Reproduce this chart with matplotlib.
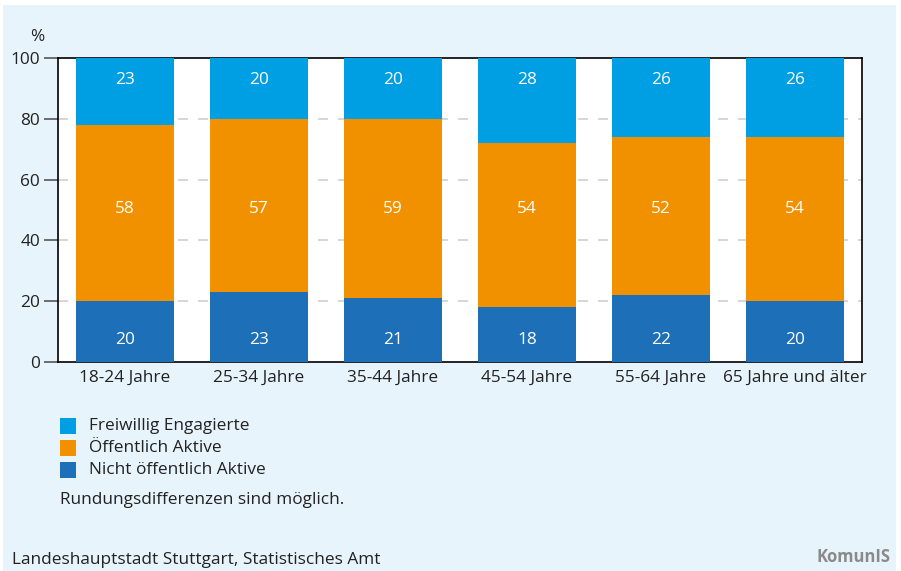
import matplotlib
matplotlib.use("Agg")
import matplotlib.pyplot as plt
from matplotlib.patches import Rectangle

categories = ["18-24 Jahre", "25-34 Jahre", "35-44 Jahre", "45-54 Jahre", "55-64 Jahre", "65 Jahre und älter"]
nicht_aktiv = [20, 23, 21, 18, 22, 20]
oeff_aktiv = [58, 57, 59, 54, 52, 54]
freiwillig = [23, 20, 20, 28, 26, 26]
series_names = ["Freiwillig Engagierte", "Öffentlich Aktive", "Nicht öffentlich Aktive"]
yticks = [0, 20, 40, 60, 80, 100]

c_light = "#009fe3"
c_orange = "#f29100"
c_dark = "#1d70b7"
bg = "#e8f4fc"

plt.rcParams['font.family'] = ['Open Sans', 'DejaVu Sans']

fig = plt.figure(figsize=(9.01, 5.71), dpi=100)
W, H = 901, 571
fig.patches.append(Rectangle((3 / W, 0), 893 / W, 566 / H, transform=fig.transFigure,
                             facecolor=bg, edgecolor="none", zorder=-10))

ax = fig.add_axes([58 / W, 1 - 362 / H, 804 / W, 304 / H])
x = list(range(len(categories)))
w = 0.724
bottoms2 = [a + b for a, b in zip(nicht_aktiv, oeff_aktiv)]
ax.bar(x, nicht_aktiv, w, color=c_dark, zorder=3)
ax.bar(x, oeff_aktiv, w, bottom=nicht_aktiv, color=c_orange, zorder=3)
ax.bar(x, [100 - b for b in bottoms2], w, bottom=bottoms2, color=c_light, zorder=3)

fs = 12.4
for i in x:
    ax.text(i, 7.2, str(nicht_aktiv[i]), ha="center", va="center", color="white", fontsize=fs, zorder=4)
    ax.text(i, 50.3, str(oeff_aktiv[i]), ha="center", va="center", color="white", fontsize=fs, zorder=4)
    ax.text(i, 92.6, str(freiwillig[i]), ha="center", va="center", color="white", fontsize=fs, zorder=4)

ax.set_xlim(-0.5, len(categories) - 0.5)
ax.set_ylim(0, 100)
ax.set_yticks(yticks)
ax.set_yticklabels([str(t) for t in yticks], fontsize=fs, color="#222222")
ax.set_xticks(x)
ax.set_xticklabels(categories, fontsize=fs, color="#222222")
ax.tick_params(axis="x", length=0, pad=6)
ax.tick_params(axis="y", length=10, width=1.2, color="#555555", pad=3)
for t in [20, 40, 60, 80]:
    ax.axhline(t, color="#d0d0d0", lw=1.2, ls=(0, (6, 6)), zorder=1)
for s in ax.spines.values():
    s.set_color("black")
    s.set_linewidth(1.2)

fig.text(37 / W, 1 - 37 / H, "%", ha="center", va="center", fontsize=fs, color="#222222")

leg_y = [426, 448, 470]
leg_c = [c_light, c_orange, c_dark]
for yy, cc, nm in zip(leg_y, leg_c, series_names):
    fig.patches.append(Rectangle((60 / W, 1 - (yy + 8) / H), 16 / W, 16 / H,
                                 transform=fig.transFigure, facecolor=cc, edgecolor="none"))
    fig.text(89 / W, 1 - yy / H, nm, ha="left", va="center", fontsize=fs, color="#222222")

fig.text(60 / W, 1 - 500 / H, "Rundungsdifferenzen sind möglich.", ha="left", va="center",
         fontsize=fs, color="#222222")
fig.text(12 / W, 1 - 560 / H, "Landeshauptstadt Stuttgart, Statistisches Amt", ha="left", va="center",
         fontsize=fs, color="#222222")
fig.text(890 / W, 1 - 557 / H, "KomunIS", ha="right", va="center", fontsize=12, color="#8a8a8a",
         fontweight="bold")

fig.savefig("out.png", dpi=100)
